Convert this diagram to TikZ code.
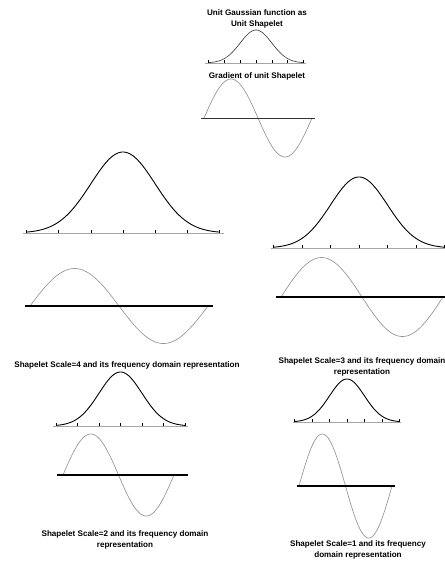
\documentclass[tikz,border=0pt]{standalone}
\usepackage{fontspec}
\setmainfont{Liberation Sans}
\usepackage{tikz}

\tikzset{
  gauss/.style={black, line width=0.9pt},
  baseaxis/.style={black!35, line width=0.9pt},
  tickmark/.style={black, line width=0.4pt},
  grad/.style={black!45, line width=0.6pt},
  zeroaxis/.style={black, line width=1.1pt},
  small/.style={gauss/.append style={line width=0.6pt, black!80}, zeroaxis/.append style={line width=0.9pt, black!80}, baseaxis/.append style={line width=0.6pt}},
  caption/.style={font=\bfseries\fontsize{8.1}{11}\selectfont, align=center, inner sep=0pt}
}

% mu, base, sigma, height, left, right
\newcommand{\gaussplot}[6]{%
  \draw[baseaxis] (#5,#2) -- (#6,#2);
  \foreach \k in {-3,...,3}
    \draw[tickmark] ({#1+\k*#3},#2) -- ++(0,-3);
  \pgfmathsetmacro{\ga}{#1-3*#3}
  \pgfmathsetmacro{\gb}{#1+3*#3}
  \draw[gauss] plot[domain=\ga:\gb, samples=90] (\x,{#2-#4*exp(-0.5*((\x-#1)/#3)^2)});
}

% start, end, axis, amplitude, left, right
\newcommand{\gradplot}[6]{%
  \pgfmathsetmacro{\gk}{360/(#2-#1)}
  \draw[grad] plot[domain=#1:#2, samples=90] (\x,{#3-#4*sin(\gk*(\x-#1))});
  \draw[zeroaxis] (#5,#3) -- (#6,#3);
}

\begin{document}
\begin{tikzpicture}[x=1pt, y=-1pt]
  \useasboundingbox (0,0) rectangle (445,563);

  % unit shapelet
  \node[caption] (unittitle) at (257,18.5) {Unit Gaussian function as\\Unit Shapelet};
  \begin{scope}[small]
    \gaussplot{256}{63}{15.8}{33}{205}{306}
    \gradplot{204}{312}{118}{39}{201}{315}
  \end{scope}
  \node[caption] (gradtitle) at (257,76) {Gradient of unit Shapelet};

  % scale 4
  \gaussplot{123}{233}{32.2}{81}{23}{224}
  \gradplot{30}{208}{306}{37.5}{25}{213}
  \node[caption] (cap4) at (127,365) {Shapelet Scale=4 and its frequency domain representation};

  % scale 3
  \gaussplot{359}{248}{28.5}{71}{271}{446}
  \gradplot{281}{443}{297}{39.5}{276}{446}
  \node[caption] (cap3) at (362,366.5) {Shapelet Scale=3 and its frequency domain\\representation};

  % scale 2
  \gaussplot{120.5}{426}{21.5}{54}{53}{188}
  \gradplot{63}{174}{475}{41}{57}{188}
  \node[caption] (cap2) at (125,539.5) {Shapelet Scale=2 and its frequency domain\\representation};

  % scale 1
  \gaussplot{347}{422}{17.5}{43}{293}{401}
  \gradplot{299}{392}{486}{52}{297}{395}
  \node[caption] (cap1) at (358,550) {Shapelet Scale=1 and its frequency\\domain representation};
\end{tikzpicture}
\end{document}
